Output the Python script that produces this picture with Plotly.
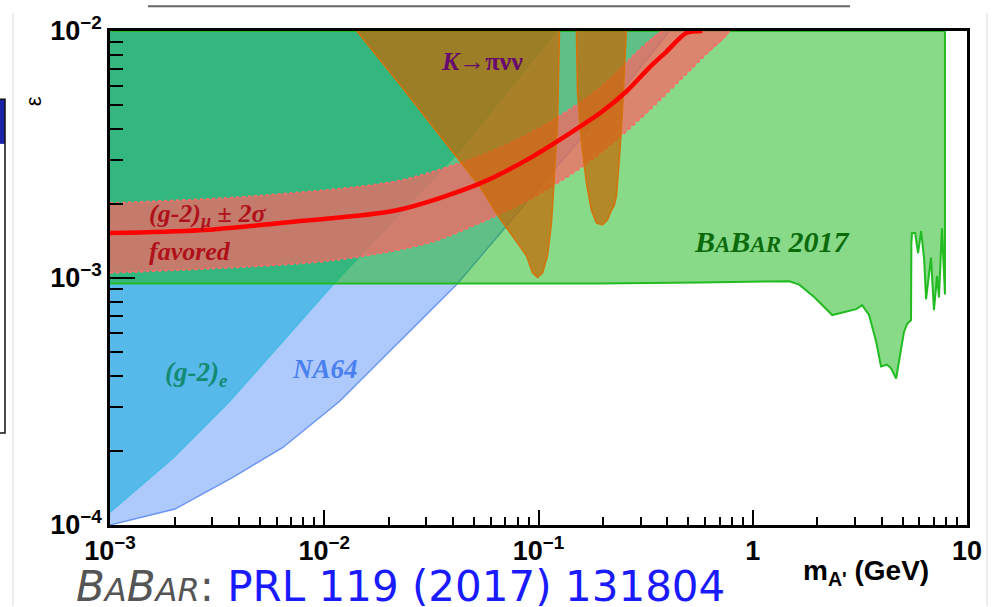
import numpy as np
import plotly.graph_objects as go

# Axis ranges (dark-photon mass in GeV, kinetic mixing epsilon)
X_RANGE = (1e-3, 10.0)
Y_RANGE = (1e-4, 1e-2)

# NA64 exclusion boundary (excluded above)
na64_mass = [0.001, 0.00201, 0.00374, 0.00641, 0.0118, 0.0419, 0.265, 0.408]
na64_eps = [1.0e-4, 1.16e-4, 1.56e-4, 2.06e-4, 3.17e-4, 9.5e-4, 6.25e-3, 1.0e-2]

# electron g-2 exclusion boundary (excluded above)
gm2e_mass = [0.001, 0.00197, 0.00362, 0.01096, 0.0415, 0.121]
gm2e_eps = [1.127e-4, 1.87e-4, 3.17e-4, 9.4e-4, 3.18e-3, 1.0e-2]

# BaBar 2017 invisible-decay search, 90% CL upper limit
babar_mass = [0.001, 0.192, 0.564, 1.48, 1.65, 1.94, 2.35, 2.67, 3.04, 3.24, 3.49,
              3.77, 3.97, 4.24, 4.43, 4.67, 4.92, 5.08, 5.25, 5.48, 5.50, 5.54,
              5.73, 5.91, 6.11, 6.31, 6.44, 6.79, 7.01, 7.25, 7.40, 7.64, 7.89]
babar_eps = [9.5e-4, 9.5e-4, 9.6e-4, 9.7e-4, 9.4e-4, 8.35e-4, 7.08e-4, 7.27e-4, 7.48e-4,
             7.76e-4, 7.08e-4, 5.51e-4, 4.38e-4, 4.46e-4, 4.30e-4, 3.92e-4, 5.03e-4,
             6.05e-4, 6.51e-4, 6.76e-4, 1.39e-3, 1.52e-3, 1.52e-3, 1.26e-3, 1.55e-3,
             1.19e-3, 8.2e-4, 1.21e-3, 7.41e-4, 1.02e-3, 8.35e-4, 1.59e-3, 8.58e-4]

# K -> pi nu nu exclusion, two lobes (closed along the top of the frame)
kpinn1_mass = [0.01419, 0.0225, 0.0372, 0.0531, 0.0658, 0.0757, 0.0879, 0.0938, 0.0989,
               0.1045, 0.1102, 0.115, 0.119, 0.1227, 0.1253]
kpinn1_eps = [1.0e-2, 6.08e-3, 3.49e-3, 2.35e-3, 1.75e-3, 1.48e-3, 1.23e-3, 1.05e-3, 1.005e-3,
              1.05e-3, 1.23e-3, 1.67e-3, 2.65e-3, 4.20e-3, 1.0e-2]
kpinn2_mass = [0.1503, 0.152, 0.1585, 0.1675, 0.1766, 0.1862, 0.1986, 0.210, 0.219, 0.226,
               0.231, 0.239, 0.247, 0.2547, 0.257]
kpinn2_eps = [1.0e-2, 5.69e-3, 3.59e-3, 2.41e-3, 1.88e-3, 1.67e-3, 1.64e-3, 1.72e-3, 1.88e-3,
              1.97e-3, 2.14e-3, 3.10e-3, 4.91e-3, 7.79e-3, 1.0e-2]

# muon g-2 favoured region: central value and +/- 2 sigma edges
gm2mu_mass = [0.001, 0.00263, 0.00769, 0.0218, 0.0531, 0.0908, 0.155, 0.199, 0.257, 0.329,
              0.395, 0.490, 0.582]
gm2mu_eps = [1.52e-3, 1.56e-3, 1.70e-3, 1.88e-3, 2.41e-3, 3.05e-3, 4.08e-3, 4.73e-3, 5.69e-3,
             7.11e-3, 8.24e-3, 9.82e-3, 1.0e-2]
gm2mu_hi_mass = [0.001, 0.0045, 0.0225, 0.0592, 0.109, 0.192, 0.296, 0.378]
gm2mu_hi_eps = [2.01e-3, 2.14e-3, 2.48e-3, 3.24e-3, 4.20e-3, 5.85e-3, 8.39e-3, 1.0e-2]
gm2mu_lo_mass = [0.001, 0.0106, 0.031, 0.0531, 0.0908, 0.155, 0.239, 0.329, 0.564, 0.776]
gm2mu_lo_eps = [1.05e-3, 1.175e-3, 1.39e-3, 1.67e-3, 2.08e-3, 2.77e-3, 3.72e-3, 4.78e-3,
                7.58e-3, 1.0e-2]

# axis tick positions and labels
x_major = [1e-3, 1e-2, 1e-1, 1, 10]
x_major_text = ["10<sup>\u22123</sup>", "10<sup>\u22122</sup>", "10<sup>\u22121</sup>", "1", "10"]
y_major = [1e-4, 1e-3, 1e-2]
y_major_text = ["10<sup>\u22124</sup>", "10<sup>\u22123</sup>", "10<sup>\u22122</sup>"]


def minor_ticks(lo_exp, hi_exp):
    return [k * 10.0 ** e for e in range(lo_exp, hi_exp) for k in range(2, 10)]


def region_above(mass, eps):
    """Close a limit curve up to the top of the frame."""
    top = Y_RANGE[1]
    return list(mass) + [mass[-1], mass[0]], list(eps) + [top, top]


fig = go.Figure()

# NA64
xs, ys = region_above(na64_mass, na64_eps)
fig.add_trace(go.Scatter(x=xs, y=ys, fill="toself", fillcolor="#aec9fb", mode="lines",
                         line=dict(color="#6a95f3", width=1.5)))
# (g-2)_e
xs, ys = region_above(gm2e_mass, gm2e_eps)
fig.add_trace(go.Scatter(x=xs, y=ys, fill="toself", fillcolor="#57b8ea", mode="lines",
                         line=dict(color="#45bde6", width=1.5)))
# BaBar 2017
xs, ys = region_above(babar_mass, babar_eps)
fig.add_trace(go.Scatter(x=xs, y=ys, fill="toself", fillcolor="rgba(18,182,18,0.5)",
                         mode="lines", line=dict(color="#22bb22", width=2)))
# (g-2)_mu band fill
fig.add_trace(go.Scatter(x=gm2mu_hi_mass + gm2mu_lo_mass[::-1],
                         y=gm2mu_hi_eps + gm2mu_lo_eps[::-1],
                         fill="toself", fillcolor="rgba(255,99,100,0.71)", mode="lines",
                         line=dict(width=0, shape="spline", smoothing=0.8)))
# band edges
for bm, be in ((gm2mu_hi_mass, gm2mu_hi_eps), (gm2mu_lo_mass, gm2mu_lo_eps)):
    fig.add_trace(go.Scatter(x=bm, y=be, mode="lines",
                             line=dict(color="#ff6b6b", width=2, dash="dot",
                                       shape="spline", smoothing=0.8)))
# K -> pi nu nu
for km, ke in ((kpinn1_mass, kpinn1_eps), (kpinn2_mass, kpinn2_eps)):
    fig.add_trace(go.Scatter(x=km, y=ke, fill="toself", fillcolor="rgba(197,103,2,0.71)",
                             mode="lines", line=dict(color="#d4720c", width=1.5)))
# (g-2)_mu central value
fig.add_trace(go.Scatter(x=gm2mu_mass, y=gm2mu_eps, mode="lines",
                         line=dict(color="#ff0000", width=4.5, shape="spline", smoothing=0.8)))

serif = "Liberation Serif"
labels = [
    ("<b><i>K</i>\u2192\u03c0\u03bd\u03bd</b>", 0.0345, 7.5e-3, "#660a6e", 26),
    ("<b><i>(g-2)<sub>\u03bc</sub> \u00b1 2\u03c3</i></b>", 0.00149, 1.80e-3, "#b0101a", 26),
    ("<b><i>favored</i></b>", 0.00149, 1.28e-3, "#b0101a", 26),
    ("<b><i>(g-2)<sub>e</sub></i></b>", 0.00177, 4.1e-4, "#138a72", 27),
    ("<b><i>NA64</i></b>", 0.0069, 4.3e-4, "#4a7ff0", 27),
    ("<b><i>B<span style='font-size:23px'>A</span>B<span style='font-size:23px'>AR</span> 2017</i></b>",
     0.522, 1.41e-3, "#0b6b0b", 30),
]
annotations = []
for text, lx, ly, col, size in labels:
    annotations.append(dict(text=text, x=np.log10(lx), y=np.log10(ly), xref="x", yref="y",
                            xanchor="left", yanchor="middle", showarrow=False,
                            font=dict(family=serif, size=size, color=col)))

# axis titles
annotations.append(dict(text="\u03b5", x=-0.0898, y=0.858, xref="paper", yref="paper",
                        xanchor="center", yanchor="middle", textangle=-90, showarrow=False,
                        font=dict(family="Liberation Sans", size=22, color="black")))
annotations.append(dict(text="<b>m<sub>A'</sub> (GeV)</b>", x=0.806, y=-0.096,
                        xref="paper", yref="paper", xanchor="left", yanchor="middle",
                        showarrow=False,
                        font=dict(family="Liberation Sans", size=28, color="black")))
# reference line under the plot
annotations.append(dict(
    text="<i><span style='color:#555555'>B<span style='font-size:32px'>A</span>B"
         "<span style='font-size:32px'>AR</span></span></i><span style='color:#555555'>:</span> "
         "<span style='color:#1a1aff'>PRL 119 (2017) 131804</span>",
    x=-0.0420, y=-0.178, xref="paper", yref="paper", xanchor="left", yanchor="bottom",
    showarrow=False, font=dict(family="DejaVu Sans", size=42)))

W, H = 1005, 607
L, R, T, B = 110, 38, 26, 82


def page(px, py):
    """Page pixel position to paper coordinates (for slide furniture)."""
    return (px - L) / (W - L - R), (H - B - py) / (H - T - B)


shapes = []
x0, y0 = page(148, 1)
x1, _ = page(850, 1)
shapes.append(dict(type="line", xref="paper", yref="paper", x0=x0, x1=x1, y0=y0, y1=y0,
                   line=dict(color="#666666", width=2)))
for gx in (13, 987):
    gx0, gy0 = page(gx, 8)
    _, gy1 = page(gx, 607)
    shapes.append(dict(type="line", xref="paper", yref="paper", x0=gx0, x1=gx0, y0=gy0,
                       y1=gy1, line=dict(color="#dddddd", width=1)))
bx0, by0 = page(-2, 95)
bx1, by1 = page(5, 432)
_, by2 = page(5, 140)
shapes.append(dict(type="rect", xref="paper", yref="paper", x0=bx0, x1=bx1, y0=by0, y1=by2,
                   fillcolor="#1a22a8", line=dict(width=0)))
shapes.append(dict(type="rect", xref="paper", yref="paper", x0=bx0, x1=bx1, y0=by0, y1=by1,
                   line=dict(color="#111111", width=1.5)))

axis_common = dict(type="log", showline=True, linecolor="black", linewidth=2.5, mirror=True,
                   ticks="inside", tickwidth=2, tickcolor="black", showgrid=False,
                   zeroline=False, tickmode="array",
                   tickfont=dict(family="Liberation Sans", size=27, color="black",
                                 weight="bold"))

fig.update_layout(
    width=W, height=H,
    margin=dict(l=L, r=R, t=T, b=B),
    paper_bgcolor="white", plot_bgcolor="white",
    showlegend=False, hovermode=False,
    xaxis=dict(axis_common, range=[np.log10(X_RANGE[0]), np.log10(X_RANGE[1])],
               tickvals=x_major, ticktext=x_major_text, ticklen=15,
               minor=dict(tickmode="array", tickvals=minor_ticks(-3, 1), ticks="inside",
                          ticklen=8, tickwidth=2, tickcolor="black", showgrid=False)),
    yaxis=dict(axis_common, range=[np.log10(Y_RANGE[0]), np.log10(Y_RANGE[1])],
               tickvals=y_major, ticktext=y_major_text, ticklen=25,
               minor=dict(tickmode="array", tickvals=minor_ticks(-4, -2), ticks="inside",
                          ticklen=13, tickwidth=2, tickcolor="black", showgrid=False)),
    annotations=annotations,
    shapes=shapes,
)

fig.write_html("out.html")
